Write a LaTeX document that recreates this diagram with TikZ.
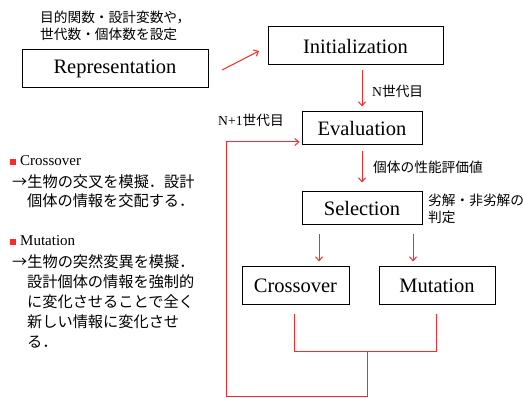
\documentclass[tikz,border=0pt]{standalone}
\usepackage{fontspec}
\setmainfont{Liberation Serif}
\newfontfamily\jp{Noto Sans CJK JP}
\newfontfamily\lat{Liberation Serif}
\usetikzlibrary{arrows.meta}
\definecolor{lnred}{RGB}{255,40,40}
\tikzset{
 box/.style={draw=black, line width=1pt, inner sep=0pt, font=\fontsize{20.5}{24}\selectfont},
 arr/.style={draw=lnred, line width=1pt, -{Straight Barb[length=4pt,width=7pt]}},
 ln/.style={draw=lnred, line width=1pt},
 jps/.style={font=\jp\fontsize{13.7}{16}\selectfont, inner sep=0pt, anchor=west},
 jpb/.style={font=\jp\fontsize{15.2}{18}\selectfont, inner sep=0pt, anchor=west},
 latb/.style={font=\lat\fontsize{15}{18}\selectfont, inner sep=0pt, anchor=west},
 bullet/.style={fill=lnred, inner sep=0pt, minimum size=6pt},
}
\begin{document}
\begin{tikzpicture}[x=1pt,y=-1pt]
\useasboundingbox (0,0) rectangle (523,398);
% boxes
\node[box, minimum width=186pt, minimum height=38pt] (rep) at (115,69) {Representation};
\node[box, minimum width=175pt, minimum height=38pt] (init) at (355.5,46) {Initialization};
\node[box, minimum width=120pt, minimum height=33pt] (eval) at (362,128.5) {Evaluation};
\node[box, minimum width=120pt, minimum height=33pt] (sel) at (362,208.5) {Selection};
\node[box, minimum width=107pt, minimum height=38pt] (cross) at (295.5,286) {Crossover};
\node[box, minimum width=116pt, minimum height=38pt] (mut) at (437,286) {Mutation};
% labels
\node[jps] (t1) at (40,17) {目的関数・設計変数や，};
\node[jps] (t2) at (40,34) {世代数・個体数を設定};
\node[jps] (nlab) at (372,91) {{\lat N}世代目};
\node[jps] (n1lab) at (218,120) {{\lat N+1}世代目};
\node[jps] (perf) at (373,167) {個体の性能評価値};
\node[jps] (judge1) at (428,200) {劣解・非劣解の};
\node[jps] (judge2) at (428,217) {判定};
% left description
\node[bullet] (b1) at (12.5,162) {};
\node[latb] (c0) at (20,161) {Crossover};
\node[jpb] (c1) at (12,182) {→生物の交叉を模擬．設計};
\node[jpb] (c2) at (27,201) {個体の情報を交配する．};
\node[bullet] (b2) at (12.5,242) {};
\node[latb] (m0) at (20,241) {Mutation};
\node[jpb] (m1) at (12,262) {→生物の突然変異を模擬．};
\node[jpb] (m2) at (27,282) {設計個体の情報を強制的};
\node[jpb] (m3) at (27,302) {に変化させることで全く};
\node[jpb] (m4) at (27,322) {新しい情報に変化させ};
\node[jpb] (m5) at (27,342) {る．};
% connectors
\coordinate (r1) at (222,70);
\coordinate (i1) at (259,51);
\draw[arr] (r1) -- (i1);
\draw[arr, shorten <=5pt, shorten >=5pt] (eval.north |- init.south) -- (eval.north);
\draw[arr, shorten <=6pt, shorten >=9pt] (eval.south) -- (sel.north);
\coordinate (s1) at (319,234);
\coordinate (s2) at (413,234);
\draw[arr, shorten >=5pt] (s1) -- (s1 |- cross.north);
\draw[arr, shorten >=5pt] (s2) -- (s2 |- mut.north);
\coordinate (cb) at (294,314);
\coordinate (mb) at (436,314);
\coordinate (j) at (367,352);
\coordinate (bot) at (367,397);
\coordinate (lb) at (226,397);
\coordinate (lt) at (226,142);
\draw[ln] (cb) -- (cb |- j) -- (mb |- j) -- (mb);
\draw[ln] (j) -- (bot) -- (lb) -- (lt);
\draw[arr, shorten >=2pt] (lt) -- (lt -| eval.west);
\end{tikzpicture}
\end{document}
